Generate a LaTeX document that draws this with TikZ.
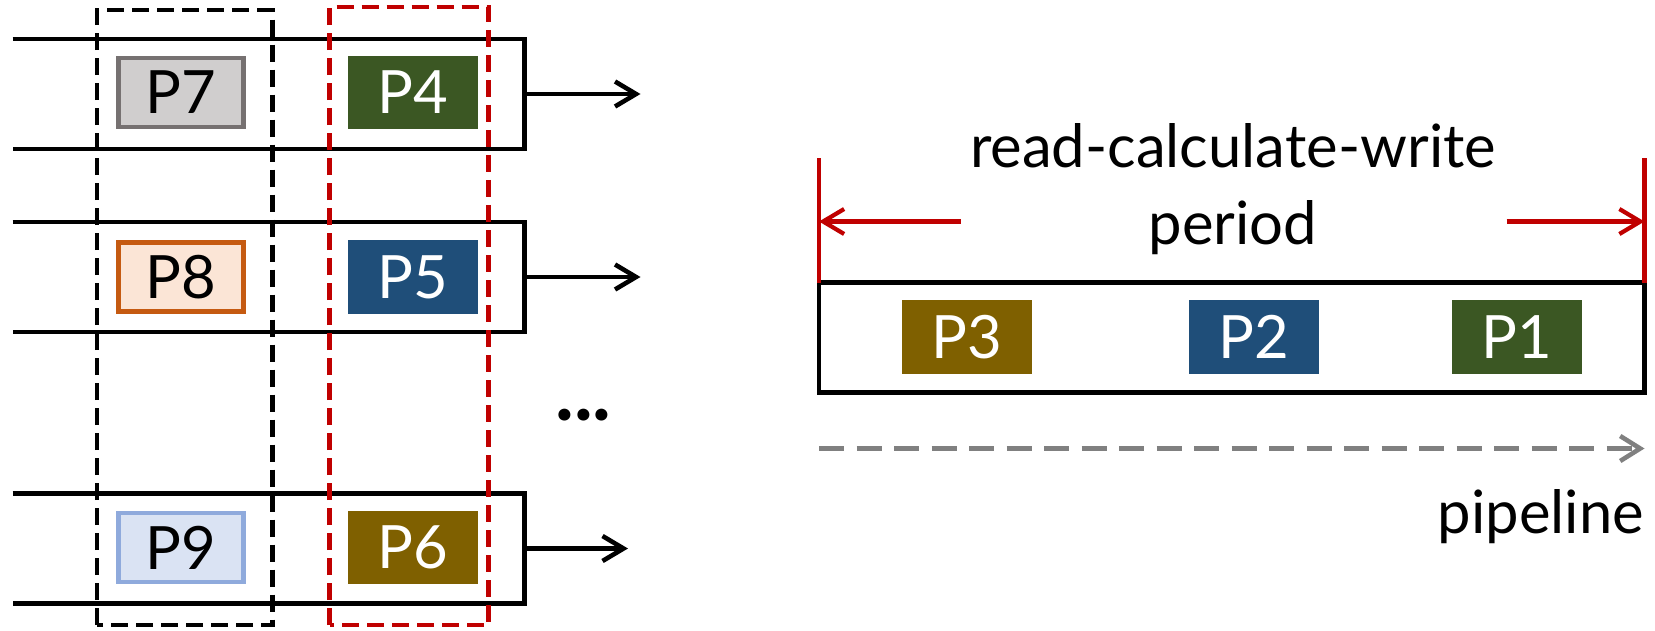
\documentclass[tikz,border=0pt]{standalone}
\usepackage{fontspec}
\setmainfont{Lato}
\usetikzlibrary{arrows.meta}
\definecolor{pgreen} {RGB}{ 59, 87, 35}
\definecolor{pblue}  {RGB}{ 31, 78,121}
\definecolor{pbrown} {RGB}{127, 96,  0}
\definecolor{grayfil}{RGB}{208,206,206}
\definecolor{graylin}{RGB}{118,113,113}
\definecolor{orgfil} {RGB}{251,229,214}
\definecolor{orglin} {RGB}{197, 90, 17}
\definecolor{bluefil}{RGB}{218,227,243}
\definecolor{bluelin}{RGB}{143,170,220}
\definecolor{darkred}{RGB}{192,  0,  0}
\newcommand{\bigfont}{\fontsize{34}{41}\selectfont}
\tikzset{
  lane/.style       = {line width=2.6pt},
  flow/.style       = {line width=2.6pt, -{Straight Barb[length=0.42cm, width=0.5cm]}},
  proc/.style       = {inner sep=0pt, minimum width=2.6cm, minimum height=1.47cm, font=\bigfont},
  dark proc/.style  = {proc, fill=#1, text=white},
  light proc/.style = {proc, minimum width=2.51cm, minimum height=1.38cm,
                       line width=2.6pt},
  group box/.style  = {line width=2.6pt, dash pattern=on 0.34cm off 0.16cm},
  span line/.style  = {darkred, line width=2.4pt},
  span arrow/.style = {span line, -{Straight Barb[length=0.42cm, width=0.5cm]}},
  label/.style      = {font=\bigfont, inner sep=0pt},
}

\begin{document}
\begin{tikzpicture}[x=1cm, y=1cm]
  \useasboundingbox (0,0) rectangle (33.10,12.60);

  % ── lanes (open on the left) with their outgoing arrows ─────────────────
  \foreach \name/\y/\tip in {lanea/10.72/12.81, laneb/7.06/12.81, lanec/1.63/12.56}{
    \draw[lane] (0.25,\y+1.1) -- (10.49,\y+1.1) -- (10.49,\y-1.1) -- (0.25,\y-1.1);
    \coordinate (\name) at (10.49,\y);
    \coordinate (\name out) at (\tip,\y);
    \draw[flow] (\name) -- (\name out);
  }

  % ── processes waiting in the lanes ──────────────────────────────────────
  \node[light proc, fill=grayfil, draw=graylin] (p7) at (3.62,10.75) {P7};
  \node[light proc, fill=orgfil,  draw=orglin]  (p8) at (3.62, 7.06) {P8};
  \node[light proc, fill=bluefil, draw=bluelin] (p9) at (3.62, 1.65) {P9};

  \node[dark proc=pgreen] (p4) at (8.26,10.75) {P4};
  \node[dark proc=pblue]  (p5) at (8.26, 7.06) {P5};
  \node[dark proc=pbrown] (p6) at (8.26, 1.65) {P6};

  % column groups
  \draw[group box]          (1.94,0.10) rectangle (5.45,12.40);
  \draw[group box, darkred] (6.59,0.10) rectangle (9.77,12.46);

  \node[label, font=\fontsize{45}{50}\selectfont\bfseries] (dots) at (11.67,4.30) {...};

  % ── one read-calculate-write period ─────────────────────────────────────
  \draw[lane] (16.38,4.75) rectangle (32.89,6.95);
  \node[dark proc=pbrown] (p3) at (19.34,5.86) {P3};
  \node[dark proc=pblue]  (p2) at (25.07,5.86) {P2};
  \node[dark proc=pgreen] (p1) at (30.33,5.86) {P1};

  \node[label] (title) at (24.66,9.68) {read-calculate-write};
  \node[label] (period) at (24.66,8.05) {period};

  \coordinate (lft) at (16.38,8.17);
  \coordinate (rgt) at (32.89,8.17);
  \draw[span line] (16.38,9.44) -- (16.38,6.95);
  \draw[span line] (32.89,9.44) -- (32.89,6.95);
  \draw[span arrow] (19.21,8.17) -- (lft);
  \draw[span arrow] (30.13,8.17) -- (rgt);

  % pipeline direction
  \coordinate (pipe start) at (16.38,3.63);
  \coordinate (pipe end)   at (32.89,3.63);
  \draw[gray, line width=2.6pt, dash pattern=on 0.5cm off 0.25cm,
        -{Straight Barb[length=0.4cm, width=0.5cm]}] (pipe start) -- (pipe end);
  \node[label, anchor=east] (pipe) at (32.89,2.27) {pipeline};

\end{tikzpicture}
\end{document}
